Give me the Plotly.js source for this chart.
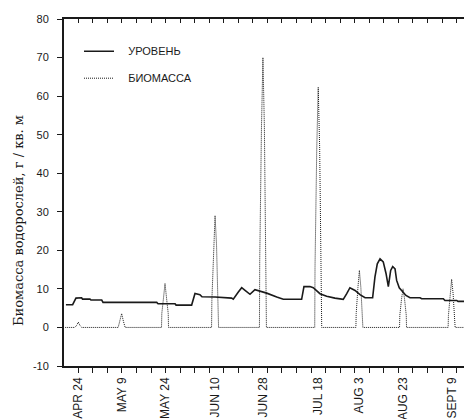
<!DOCTYPE html>
<html><head><meta charset="utf-8">
<script src="https://cdn.plot.ly/plotly-3.0.1.min.js"></script>
<style>html,body{margin:0;padding:0;background:#fff}</style>
</head><body><div id="chart" style="width:464px;height:419px"></div>
<script>
// x is in sample units (one minor tick per unit)
const levelX = [-0.85,-0.39,-0.16,0.23,0.29,0.80,0.87,1.61,1.70,5.39,5.48,6.65,6.72,7.79,8.02,8.36,8.50,9.40,10.54,10.65,11.00,11.23,11.46,11.80,12.14,12.49,12.95,13.64,14.09,15.35,15.51,15.92,16.15,16.61,17.07,17.64,18.21,18.45,18.67,19.02,19.36,19.71,20.23,20.39,20.55,20.74,20.96,21.15,21.31,21.47,21.61,21.77,21.88,22.06,22.23,22.52,22.80,23.49,23.60,25.09,25.20,26.01,26.10,26.51];
const levelY = [5.9,5.9,7.6,7.7,7.35,7.35,7.1,7.1,6.5,6.5,6.15,6.15,5.8,5.8,8.8,8.5,7.95,7.9,7.6,7.35,9.2,10.3,9.6,8.6,9.8,9.4,8.9,7.9,7.3,7.3,10.6,10.6,10.3,8.75,8.1,7.6,7.3,8.75,10.3,9.6,8.5,7.7,7.7,13.1,16.5,17.8,17.0,14.0,10.6,14.8,15.8,15.2,12.2,10.3,9.6,8.3,7.7,7.7,7.45,7.45,7.0,7.0,6.75,6.75];

const bioX = [-0.9,
  -0.24,-0.1,0,0.1,0.24,
  2.74,2.86,2.98,3.10,3.22,
  5.72,5.74,5.86,5.96,6.06,6.18,6.20,
  9.16,9.18,9.30,9.40,9.50,9.62,9.64,
  12.45,12.47,12.59,12.69,12.79,12.91,12.93,
  16.25,16.27,16.39,16.49,16.59,16.71,16.73,
  19.08,19.10,19.22,19.32,19.42,19.54,19.56,
  22.08,22.10,22.22,22.32,22.42,22.54,22.56,
  25.42,25.44,25.56,25.66,25.76,25.88,25.90,
  26.6];
const bioY = [0,
  0,0.6,1.4,0.6,0,
  0,1.6,3.6,1.6,0,
  0,3.6,7.8,11.4,7.8,3.6,0,
  0,7,21.5,29,21.5,7,0,
  0,17.4,52,70,52,17.4,0,
  0,15.6,46.5,62.3,46.5,15.6,0,
  0,3.6,10.4,14.8,10.4,3.6,0,
  0,3.2,7.5,10,7.5,3.2,0,
  0,3.1,8.8,12.5,8.8,3.1,0,
  0];

const tickPos = [0, 2.98, 5.96, 9.4, 12.69, 16.49, 19.32, 22.32, 25.66];
const tickLabels = ['APR 24','MAY 9','MAY 24','JUN 10','JUN 28','JUL 18','AUG 3','AUG 23','SEPT 9'];
const yTickVals = [-10, 0, 10, 20, 30, 40, 50, 60, 70, 80];
const yTickText = ['-10', '0', '10', '20', '30', '40', '50', '60', '70', '80'];
const seriesNames = ['УРОВЕНЬ', 'БИОМАССА'];
const yTitle = 'Биомасса водорослей, г / кв. м';

const xRange = [-0.983, 26.51];
const ink = '#1a1a1a';
const sans = 'Liberation Sans, Arial, sans-serif';
const pad = '\u00a0\u00a0\u00a0';

const traces = [
  {x: levelX, y: levelY, mode: 'lines', name: pad + seriesNames[0], legendgroup: 'a',
   line: {color: ink, width: 1.6, dash: 'solid'}},
  {x: bioX, y: bioY, mode: 'lines', name: pad + seriesNames[1], legendgroup: 'b',
   line: {color: ink, width: 1, dash: '1px,1px'}}
];
traces.push({x: [xRange[0]], y: [0], xaxis: 'x2', mode: 'markers', marker: {opacity: 0}, showlegend: false, hoverinfo: 'skip'});
traces.push({x: [xRange[0]], y: [0], xaxis: 'x3', mode: 'markers', marker: {opacity: 0}, showlegend: false, hoverinfo: 'skip'});

const layout = {
  width: 464, height: 419,
  margin: {l: 64, r: 0, t: 19, b: 53},
  paper_bgcolor: '#fff', plot_bgcolor: '#fff',
  showlegend: true,
  legend: {x: 0.0375, y: 0.949, xanchor: 'left', yanchor: 'top', bgcolor: 'rgba(0,0,0,0)',
           font: {family: sans, size: 11, color: ink}, tracegroupgap: 8, traceorder: 'grouped'},
  xaxis: {range: xRange, showgrid: false, zeroline: false, showline: true, linecolor: ink, linewidth: 2,
          tickmode: 'linear', tick0: 0, dtick: 1, ticks: 'outside', ticklen: 5, tickwidth: 1, tickcolor: ink,
          showticklabels: false},
  xaxis2: {range: xRange, overlaying: 'x', anchor: 'y', side: 'bottom', showgrid: false, zeroline: false,
           showline: false, tickmode: 'array', tickvals: tickPos, ticktext: tickLabels, ticks: '',
           tickangle: -90, tickfont: {family: sans, size: 12, color: ink}, ticklabelstandoff: 8},
  xaxis3: {range: xRange, overlaying: 'x', anchor: 'y', side: 'top', showgrid: false, zeroline: false,
           showline: true, linecolor: ink, linewidth: 2, tickmode: 'linear', tick0: 0, dtick: 1,
           ticks: 'inside', ticklen: 4, tickwidth: 1, tickcolor: ink, showticklabels: false},
  yaxis: {range: [-10, 80], tickmode: 'array', tickvals: yTickVals, ticktext: yTickText,
          showgrid: false, zeroline: false, showline: true, linecolor: ink, linewidth: 2,
          ticks: 'outside', ticklen: 5, tickwidth: 1, tickcolor: ink,
          tickfont: {family: sans, size: 11, color: ink}, ticklabelstandoff: 6},
  annotations: [{text: yTitle, xref: 'paper', yref: 'paper', x: -0.1125, y: 0.418,
                 xanchor: 'center', yanchor: 'middle', textangle: -90, showarrow: false,
                 font: {family: 'DejaVu Serif, Liberation Serif, serif', size: 13, color: ink}}]
};

Plotly.newPlot('chart', traces, layout, {staticPlot: true});
</script>
</body></html>
